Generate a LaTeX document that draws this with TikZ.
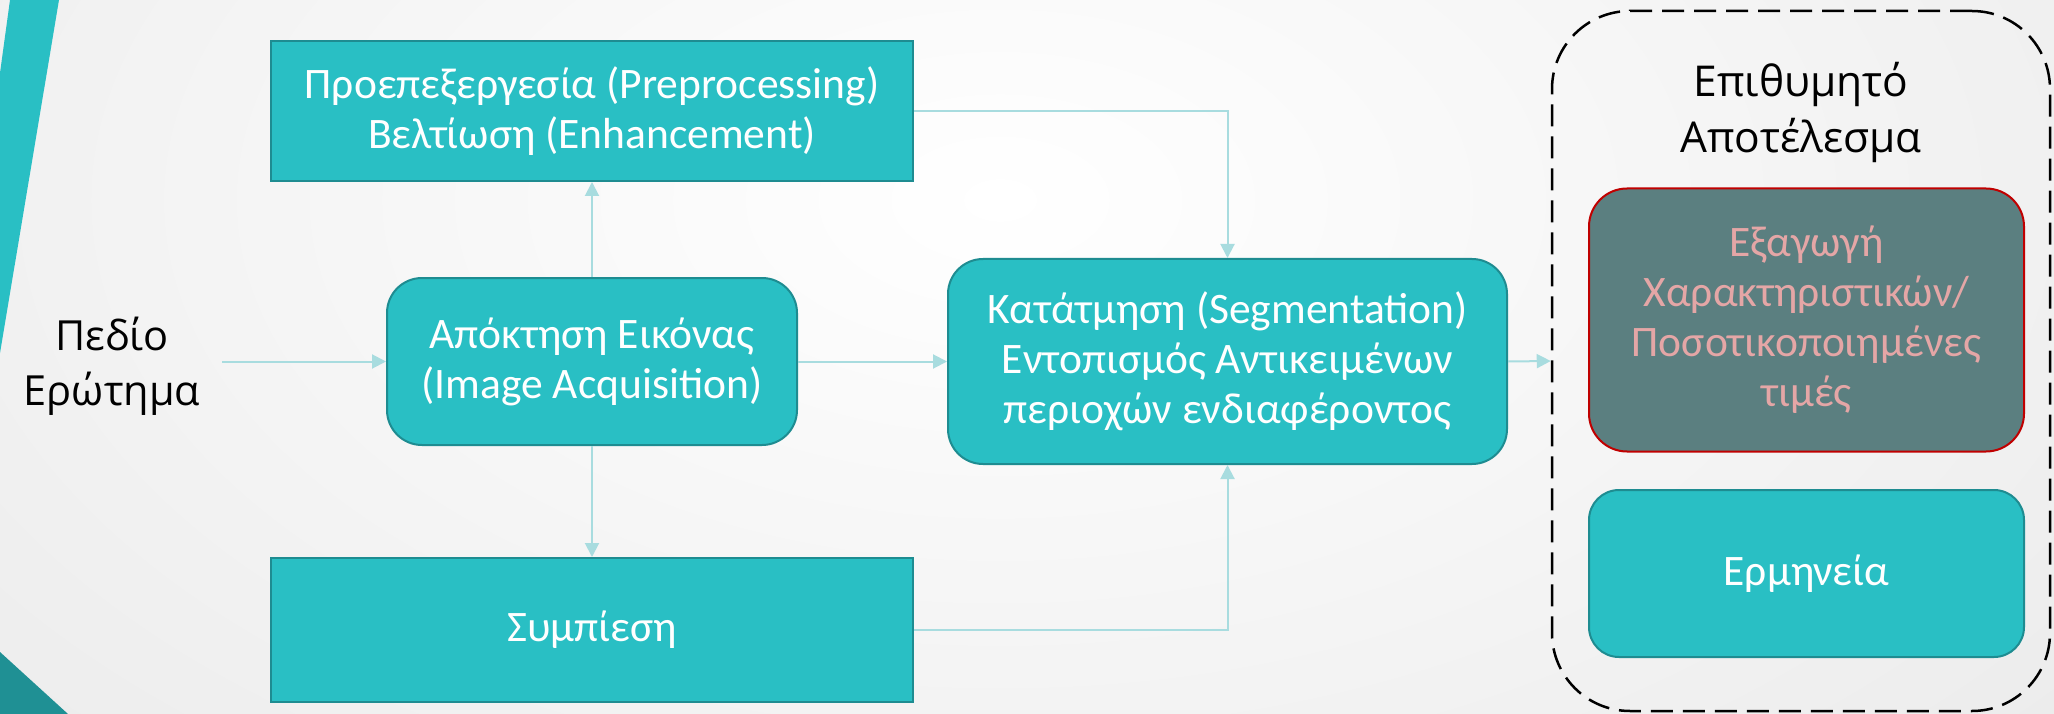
\documentclass[tikz,border=0pt]{standalone}
\usepackage{fontspec}
\setmainfont{Open Sans}
\newfontfamily\boxfont{Carlito}
\newfontfamily\labfont{Open Sans}
\usetikzlibrary{arrows.meta}
\definecolor{teal1}{RGB}{41,191,196}
\definecolor{tealdark}{RGB}{30,140,145}
\definecolor{tealtri}{RGB}{31,144,148}
\definecolor{arrc}{RGB}{168,220,223}
\definecolor{greyteal}{RGB}{91,127,128}
\definecolor{redb}{RGB}{192,0,0}
\definecolor{pinkt}{RGB}{228,166,166}
\definecolor{bgout}{RGB}{222,222,222}
\tikzset{
  tbox/.style={draw=tealdark, fill=teal1, line width=2pt, inner sep=0pt, align=center,
    text=white, font=\boxfont\fontsize{43.5}{50}\selectfont},
  rbox/.style={tbox, rounded corners=35pt},
  arr/.style={draw=arrc, line width=2pt, -{Triangle[length=14pt,width=14pt]}},
  lab/.style={align=center, text=black, font=\labfont\fontsize{41.5}{55}\selectfont, inner sep=0pt},
}
\begin{document}
\begin{tikzpicture}[x=1pt,y=-1pt]
\useasboundingbox (0,0) rectangle (2054,714);
% background
\begin{scope}
\clip (0,0) rectangle (2054,714);
\shade[inner color=white, outer color=bgout] (-1400,-1200) rectangle (3400,1600);
\fill[teal1] (10,0) -- (59,0) -- (0,353) -- (0,73) -- cycle;
\fill[tealtri] (0,652) -- (68,714) -- (0,714) -- cycle;
\end{scope}
% nodes
\node[lab] (field) at (112,366) {Πεδίο\\Ερώτημα};
\node[tbox, minimum width=642pt, minimum height=140pt] (pre) at (592,111)
  {Προεπεξεργεσία (Preprocessing)\\Βελτίωση (Enhancement)};
\node[rbox, minimum width=410pt, minimum height=167pt] (acq) at (592,361.5)
  {Απόκτηση Εικόνας\\(Image Acquisition)};
\node[tbox, minimum width=642pt, minimum height=144pt] (comp) at (592,630)
  {Συμπίεση};
\node[rbox, minimum width=559pt, minimum height=205pt] (seg) at (1227.5,361.5)
  {Κατάτμηση (Segmentation)\\Εντοπισμός Αντικειμένων\\περιοχών ενδιαφέροντος};
\node[draw=black, line width=2.5pt, dash pattern=on 22pt off 10pt, rounded corners=78pt,
  minimum width=498pt, minimum height=700pt, inner sep=0pt] (res) at (1801,361) {};
\node[lab, font=\labfont\fontsize{42.5}{56}\selectfont] (title) at (1801,112) {Επιθυμητό\\Αποτέλεσμα};
\node[tbox, draw=redb, fill=greyteal, text=pinkt, rounded corners=38pt,
  minimum width=435pt, minimum height=263pt, font=\boxfont\fontsize{43.5}{50}\selectfont] (feat) at (1806.5,320)
  {Εξαγωγή\\Χαρακτηριστικών/\\Ποσοτικοποιημένες\\τιμές};
\node[tbox, rounded corners=30pt, minimum width=435pt, minimum height=167pt] (interp) at (1806.5,573.5)
  {Ερμηνεία};
% connectors
\draw[arr] ([xshift=22pt]field.east |- acq.west) -- (acq.west);
\draw[arr] (acq.north) -- (pre.south);
\draw[arr] (acq.south) -- (comp.north);
\draw[arr] (acq.east) -- (seg.west);
\draw[arr] (pre.east) -| (seg.north);
\draw[arr] (comp.east) -| (seg.south);
\draw[arr] (seg.east) -- (res.west);
\end{tikzpicture}
\end{document}
